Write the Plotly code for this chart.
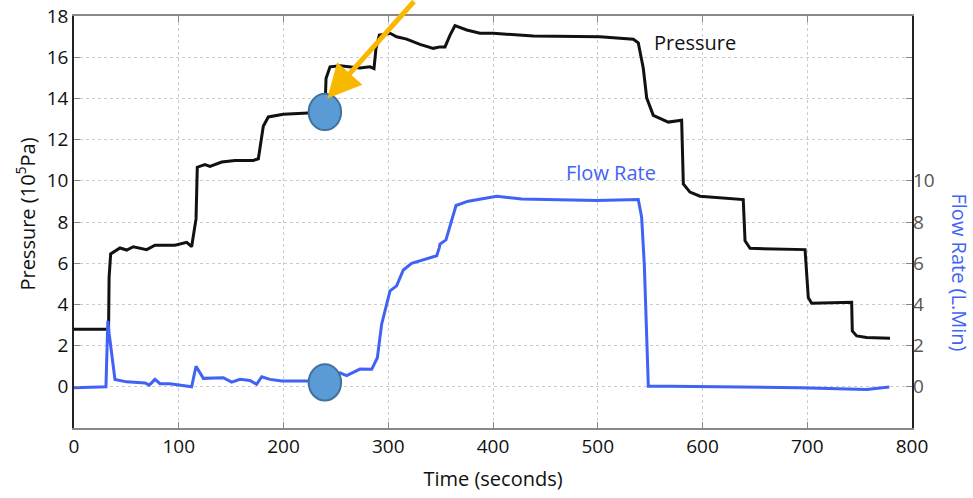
import plotly.graph_objects as go

# Pressure (10^5 Pa) vs time (s)
p_time = [0, 33, 33.5, 35, 43.9, 50.3, 56.6, 69.4, 77.3, 96.4, 107.6, 112.3, 116.5, 117.7,
          125, 129.8, 141, 153.7, 171.2, 176, 180.7, 185.5, 199.8, 207.8, 223.7, 239.5,
          240.6, 244.4, 254, 273, 282.6, 286.4, 288.3, 291.5, 301.7, 308, 317.6, 330.3,
          343, 349.4, 354.2, 359, 363.7, 374.9, 387.6, 400.3, 438.5, 502.1, 534, 538.7,
          543.5, 546.7, 553, 567.3, 580.1, 581.7, 588, 597.6, 638.9, 640.6, 645.4, 697.9,
          701, 704.2, 742.4, 743, 747.2, 756.7, 779]
p_val = [2.79, 2.79, 5.3, 6.45, 6.74, 6.64, 6.80, 6.66, 6.87, 6.87, 7.01, 6.80, 8.15, 10.66,
         10.79, 10.70, 10.91, 10.99, 10.99, 11.07, 12.65, 13.10, 13.23, 13.26, 13.29, 13.29,
         14.97, 15.53, 15.58, 15.48, 15.53, 15.45, 16.43, 17.07, 17.16, 16.99, 16.88, 16.62,
         16.43, 16.50, 16.50, 17.07, 17.53, 17.32, 17.16, 17.16, 17.03, 16.99, 16.87, 16.70,
         15.45, 14.03, 13.18, 12.85, 12.94, 9.85, 9.45, 9.25, 9.09, 7.09, 6.72, 6.66,
         4.33, 4.06, 4.10, 2.71, 2.47, 2.39, 2.36]

# Flow rate (L/min) vs time (s)
f_time = [0, 30.5, 32.3, 33.5, 39.1, 50.3, 67.8, 71.9, 77.3, 82.1, 91.6, 112.3, 116.5, 123.5,
          142.6, 150.5, 158.5, 168, 174.4, 179.2, 187.1, 198.3, 225.3, 253.9, 260.3, 273,
          284.2, 289.6, 293.7, 301.7, 308, 314.4, 322.3, 346.3, 348.8, 349.4, 355.1, 364.7,
          376.4, 403.5, 427.4, 498.9, 538.7, 541.9, 544.5, 548.3, 569, 693, 756.7, 778.3]
f_val = [-0.05, 0.0, 3.2, 2.6, 0.36, 0.24, 0.19, 0.08, 0.36, 0.15, 0.15, 0.0, 1.0, 0.41,
         0.44, 0.23, 0.36, 0.31, 0.12, 0.49, 0.36, 0.28, 0.28, 0.68, 0.54, 0.86,
         0.85, 1.41, 3.04, 4.66, 4.9, 5.67, 5.99, 6.36, 6.77, 6.93, 7.13, 8.8,
         9.01, 9.25, 9.12, 9.04, 9.09, 8.23, 5.88, 0.03, 0.03, -0.05, -0.13, -0.01]

# Highlighted instant
mark_t = 239.5
mark_p = 13.34
mark_f = 0.21

x_ticks = [0, 100, 200, 300, 400, 500, 600, 700, 800]
left_ticks = [0, 2, 4, 6, 8, 10, 12, 14, 16, 18]
right_ticks = [0, 2, 4, 6, 8, 10]

BLUE = "#4163f5"
FONT = "Open Sans"

fig = go.Figure()
fig.add_trace(go.Scatter(x=p_time, y=p_val, mode="lines", line=dict(color="#111111", width=3),
                         showlegend=False, hoverinfo="skip"))
fig.add_trace(go.Scatter(x=f_time, y=f_val, mode="lines", line=dict(color=BLUE, width=3),
                         showlegend=False, hoverinfo="skip", yaxis="y2"))

# ellipse markers
for cy in (mark_p, mark_f):
    fig.add_shape(type="circle", xref="x", yref="y",
                  x0=mark_t - 15.5, x1=mark_t + 15.5, y0=cy - 0.88, y1=cy + 0.88,
                  fillcolor="#5b9bd5", line=dict(color="#41719c", width=2), layer="above")

fig.update_layout(
    width=973, height=498,
    margin=dict(l=74, r=61, t=16, b=70, autoexpand=False),
    paper_bgcolor="white", plot_bgcolor="white",
    font=dict(family=FONT, size=19, color="#111111"),
    xaxis=dict(range=[0, 800], tickvals=x_ticks, ticks="inside", ticklen=6, tickcolor="#888888",
               showline=True, linecolor="#888888", linewidth=1.5, mirror="ticks",
               showgrid=True, gridcolor="#cccccc", griddash="dot", gridwidth=1,
               zeroline=False, automargin=False, tickfont=dict(size=19),
               title=dict(text="Time (seconds)", standoff=14,
                          font=dict(size=20, color="#111111"))),
    yaxis=dict(range=[-2, 18], tickvals=left_ticks, ticks="inside", ticklen=6, tickcolor="#888888",
               showline=True, linecolor="#222222", linewidth=1.5, mirror="ticks",
               showgrid=True, gridcolor="#cccccc", griddash="dot", gridwidth=1,
               zeroline=False, automargin=False, tickfont=dict(size=19)),
    yaxis2=dict(range=[-2, 18], tickvals=right_ticks, overlaying="y", side="right",
                showgrid=False, zeroline=False, ticks="", showline=False, automargin=False,
                tickfont=dict(color="#555555", size=19)),
)

fig.add_annotation(text="Pressure (10<sup>5</sup>Pa)", xref="paper", yref="paper",
                   x=-0.058, y=0.519, textangle=-90, showarrow=False,
                   font=dict(size=20, color="#111111"), xanchor="center", yanchor="middle")
fig.add_annotation(text="Flow Rate (L.Min)", xref="paper", yref="paper",
                   x=1.057, y=0.378, textangle=90, showarrow=False,
                   font=dict(size=20, color=BLUE), xanchor="center", yanchor="middle")
fig.add_annotation(text="Pressure", x=593, y=16.7, xref="x", yref="y", showarrow=False,
                   font=dict(size=20, color="#111111"))
fig.add_annotation(text="Flow Rate", x=512.6, y=10.4, xref="x", yref="y", showarrow=False,
                   font=dict(size=20, color=BLUE))
fig.add_annotation(text="", x=241.8, y=13.99, xref="x", yref="y", showarrow=True,
                   ax=88, ay=-100, arrowhead=2, arrowsize=1.35, arrowwidth=5,
                   arrowcolor="#f8b800")

fig.write_html("out.html")
